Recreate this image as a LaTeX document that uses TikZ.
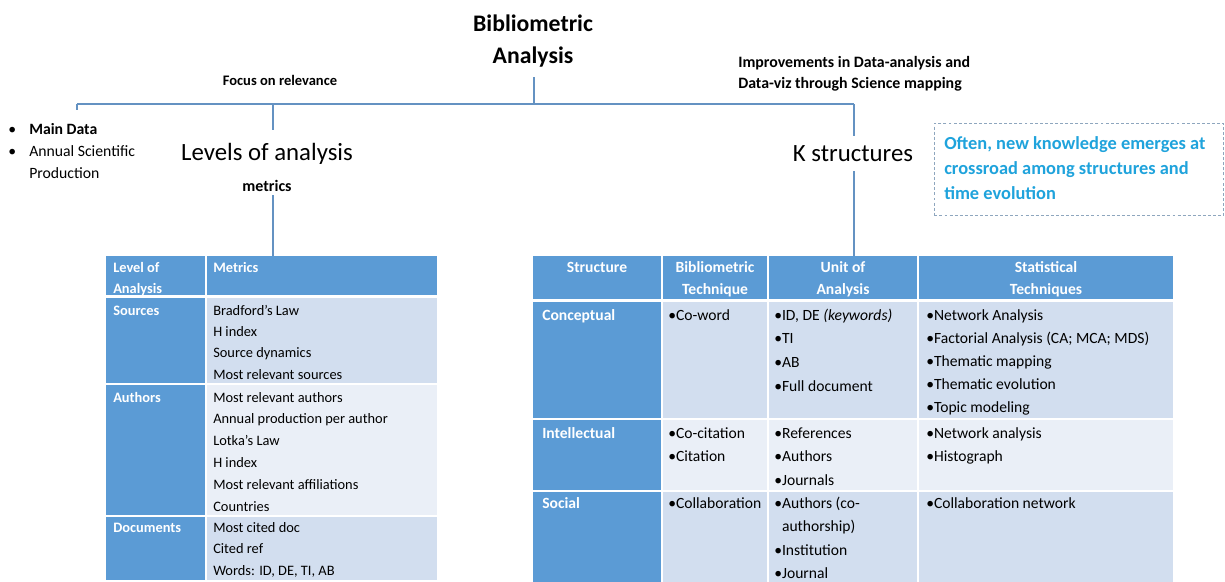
\documentclass[tikz,border=0pt]{standalone}
\usepackage{fontspec}
\setmainfont{Carlito}
\definecolor{hdrblue}{HTML}{5B9BD5}
\definecolor{rowdark}{HTML}{D2DEEF}
\definecolor{rowlight}{HTML}{EAEFF7}
\definecolor{connblue}{HTML}{6492C2}
\definecolor{noteblue}{HTML}{1FA3DC}
\definecolor{dashgray}{HTML}{8EA6BE}
\newcommand\rbul{\makebox[0.5em][l]{•}}
\begin{document}
\begin{tikzpicture}[x=0.75pt, y=-0.75pt,
  lbl/.style={inner sep=0pt, anchor=base},
  lblw/.style={inner sep=0pt, anchor=base west},
  conn/.style={draw=connblue, line width=1pt},
  ttl/.style={lbl, font=\fontsize{17.8}{20}\selectfont\bfseries},
  big/.style={lbl, font=\fontsize{18.6}{22}\selectfont},
  sub/.style={lbl, font=\fontsize{12}{14}\selectfont\bfseries},
  lt/.style={lblw, font=\fontsize{10.8}{13}\selectfont},
  lth/.style={lblw, text=white, font=\fontsize{10.8}{13}\selectfont\bfseries},
  rt/.style={lblw, font=\fontsize{11.7}{14}\selectfont},
  rth/.style={lbl, text=white, font=\fontsize{11.7}{14}\selectfont\bfseries},
  rtw/.style={lblw, text=white, font=\fontsize{11.7}{14}\selectfont\bfseries},
  note/.style={lblw, text=noteblue, font=\fontsize{13.8}{16}\selectfont\bfseries}
]
\fill[white] (0,0) rectangle (1225,582);
\useasboundingbox (0,0) rectangle (1225,582);

% ---------- headings ----------
\node[ttl] (title1) at (533,31) {Bibliometric};
\node[ttl] (title2) at (533,63) {Analysis};
\node[lbl, font=\fontsize{10.9}{13}\selectfont\bfseries] (focus) at (280,85) {Focus on relevance};
\node[lblw, font=\fontsize{11.9}{14}\selectfont\bfseries] (impr1) at (738,67) {Improvements in Data-analysis and};
\node[lblw, font=\fontsize{11.9}{14}\selectfont\bfseries] (impr2) at (738,88) {Data-viz through Science mapping};
\node[big] (levels) at (267,160) {Levels of analysis};
\node[sub] (metrics) at (267,191) {metrics};
\node[big] (kstruct) at (853,161) {K structures};

% ---------- left bullet list ----------
\node[lblw, font=\fontsize{11.8}{14}\selectfont] (b1) at (8,134) {•};
\node[lblw, font=\fontsize{11.8}{14}\selectfont\bfseries] (main) at (29,134) {Main Data};
\node[lblw, font=\fontsize{11.8}{14}\selectfont] (b2) at (8,156) {•};
\node[lblw, font=\fontsize{11.8}{14}\selectfont] (annual1) at (29,156) {Annual Scientific};
\node[lblw, font=\fontsize{11.8}{14}\selectfont] (annual2) at (29,178) {Production};

% ---------- note box ----------
\node[draw=dashgray, dash pattern=on 2.2pt off 1.6pt, line width=0.6pt, inner sep=0pt,
      anchor=north west, minimum width=217pt, minimum height=69pt] (notebox) at (934,123) {};
\node[note] (n1) at (944,149) {Often, new knowledge emerges at};
\node[note] (n2) at (944,174) {crossroad among structures and};
\node[note] (n3) at (944,199) {time evolution};

% ---------- connectors ----------
\coordinate (jL) at (77,104);
\coordinate (jLt) at (77,110);
\coordinate (jM) at (273,104);
\coordinate (jMb) at (273,130);
\coordinate (jT) at (534,104);
\coordinate (jR) at (854,104);
\coordinate (jRb) at (854,136);
\coordinate (ltop) at (273,256);
\coordinate (rtop) at (854,256);
\draw[conn] (jL) -- (jR);
\draw[conn] (jL) -- (jLt);
\draw[conn] (title2.south -| jT) ++(0,10) -- (jT);
\draw[conn] (jM) -- (jMb);
\draw[conn] (jR) -- (jRb);
\draw[conn] (metrics.south -| ltop) ++(0,4) -- (ltop);
\draw[conn] (kstruct.south -| rtop) ++(0,10) -- (rtop);

% ---------- left table ----------
\fill[hdrblue] (106,256) rectangle (205,295);
\fill[hdrblue] (207,256) rectangle (437,295);
\fill[hdrblue] (106,298) rectangle (205,383);
\fill[rowdark] (207,298) rectangle (437,383);
\fill[hdrblue] (106,385) rectangle (205,515);
\fill[rowlight] (207,385) rectangle (437,515);
\fill[hdrblue] (106,517) rectangle (205,580);
\fill[rowdark] (207,517) rectangle (437,580);

\node[lth] (lh1) at (113,272) {Level of};
\node[lth] (lh2) at (113,293) {Analysis};
\node[lth] (lh3) at (213,272) {Metrics};
\node[lth] (lsrc) at (113,315) {Sources};
\node[lth] (laut) at (113,402) {Authors};
\node[lth] (ldoc) at (113,532) {Documents};
\foreach \t [count=\i from 0] in {Bradford’s Law, H index, Source dynamics, Most relevant sources}
  \node[lt] (ls\i) at (213,315+21.4*\i) {\t};
\foreach \t [count=\i from 0] in {Most relevant authors, Annual production per author, Lotka’s Law, H index, Most relevant affiliations, Countries}
  \node[lt] (la\i) at (213,402+21.8*\i) {\t};
\foreach \t [count=\i from 0] in {Most cited doc, Cited ref, {Words: ID, DE, TI, AB}}
  \node[lt] (ld\i) at (213,532+21.6*\i) {\t};

% ---------- right table ----------
\fill[hdrblue] (533,256) rectangle (1173,299);
\fill[hdrblue] (533,302) rectangle (661,590);
\fill[rowdark] (663,302) rectangle (767,418);
\fill[rowdark] (769,302) rectangle (917,418);
\fill[rowdark] (919,302) rectangle (1173,418);
\fill[rowlight] (663,420) rectangle (767,490);
\fill[rowlight] (769,420) rectangle (917,490);
\fill[rowlight] (919,420) rectangle (1173,490);
\fill[rowdark] (663,492) rectangle (767,590);
\fill[rowdark] (769,492) rectangle (917,590);
\fill[rowdark] (919,492) rectangle (1173,590);
\draw[white, line width=1.5pt] (533,418.9) -- (661,418.9) (533,490.9) -- (661,490.9);
\draw[white, line width=1pt] (662,256) -- (662,299) (768,256) -- (768,299) (918,256) -- (918,299);

\node[rth] (rh1) at (597,272) {Structure};
\node[rth] (rh2) at (715,272) {Bibliometric};
\node[rth] (rh3) at (715,294) {Technique};
\node[rth] (rh4) at (843,272) {Unit of};
\node[rth] (rh5) at (843,294) {Analysis};
\node[rth] (rh6) at (1046,272) {Statistical};
\node[rth] (rh7) at (1046,294) {Techniques};

\node[rtw] (rcon) at (542,320) {Conceptual};
\node[rtw] (rint) at (542,438) {Intellectual};
\node[rtw] (rsoc) at (542,508) {Social};

\node[rt] (t1) at (668,320) {\rbul Co-word};
\node[rt] (t2) at (668,438) {\rbul Co-citation};
\node[rt] (t3) at (668,461.5) {\rbul Citation};
\node[rt] (t4) at (668,508) {\rbul Collaboration};

\foreach \t [count=\i from 0] in {{ID, DE \textit{(keywords)}}, TI, AB, Full document}
  \node[rt] (uc\i) at (774,320+23.8*\i) {\rbul\t};
\foreach \t [count=\i from 0] in {References, Authors, Journals}
  \node[rt] (ui\i) at (774,438+23.5*\i) {\rbul\t};
\node[rt] (us0) at (774,508) {\rbul Authors (co-};
\node[rt] (us1) at (774,531.5) {\phantom{\rbul}authorship)};
\node[rt] (us2) at (774,555) {\rbul Institution};
\node[rt] (us3) at (774,578.5) {\rbul Journal};

\foreach \t [count=\i from 0] in {Network Analysis, Factorial Analysis (CA; MCA; MDS), Thematic mapping, Thematic evolution, Topic modeling}
  \node[rt] (sc\i) at (926,320+23.2*\i) {\rbul\t};
\foreach \t [count=\i from 0] in {Network analysis, Histograph}
  \node[rt] (si\i) at (926,438+23.5*\i) {\rbul\t};
\node[rt] (ss0) at (926,508) {\rbul Collaboration network};
\end{tikzpicture}
\end{document}
